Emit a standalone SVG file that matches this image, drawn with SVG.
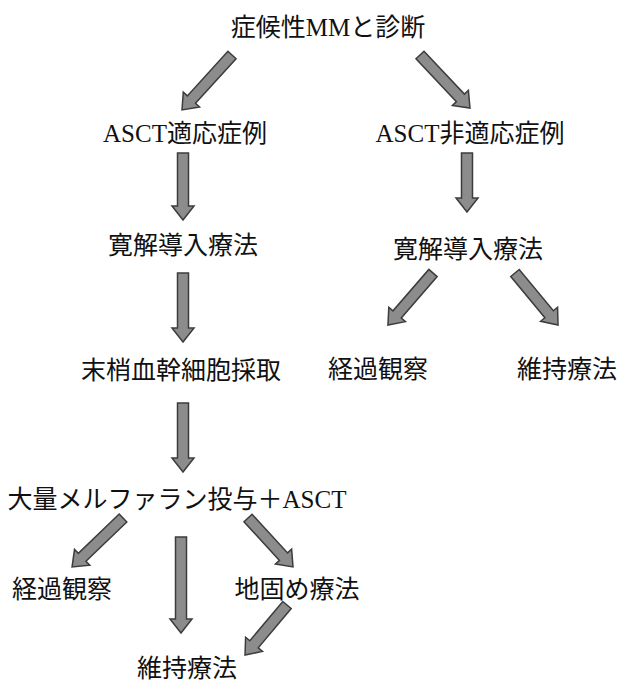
<svg xmlns="http://www.w3.org/2000/svg" width="621" height="686" viewBox="0 0 621 686">
<style>
text{font-family:"Liberation Serif","Noto Sans CJK JP",serif;font-size:25px;fill:#111;text-anchor:middle}
.arr{fill:#8c8c8c;stroke:#3c3c3c;stroke-width:1.5;stroke-linejoin:miter}
</style>
<rect width="621" height="686" fill="#fff"/>
<g id="n_diag"><text x="328" y="36">症候性MMと診断</text></g>
<g id="n_asct_ok"><text x="185" y="142">ASCT適応症例</text></g>
<g id="n_asct_ng"><text x="470" y="142">ASCT非適応症例</text></g>
<g id="n_ind_l"><text x="183" y="254">寛解導入療法</text></g>
<g id="n_ind_r"><text x="468" y="258">寛解導入療法</text></g>
<g id="n_obs_r"><text x="378" y="378">経過観察</text></g>
<g id="n_maint_r"><text x="567" y="378">維持療法</text></g>
<g id="n_pbsc"><text x="181" y="379">末梢血幹細胞採取</text></g>
<g id="n_hdm"><text x="177" y="508">大量メルファラン投与＋ASCT</text></g>
<g id="n_obs_l"><text x="62" y="598">経過観察</text></g>
<g id="n_consol"><text x="297" y="598">地固め療法</text></g>
<g id="n_maint_b"><text x="187" y="677">維持療法</text></g>
<g id="connectors">
<path class="arr" transform="translate(232,55) rotate(42.3)" d="M-5.5,0H5.5V60.3H11L0,74.3L-11,60.3H-5.5Z"/>
<path class="arr" transform="translate(420,55) rotate(-43.3)" d="M-5.5,0H5.5V58.9H11L0,72.9L-11,58.9H-5.5Z"/>
<path class="arr" transform="translate(183,153)" d="M-5.5,0H5.5V53H11L0,67L-11,53H-5.5Z"/>
<path class="arr" transform="translate(467,153)" d="M-5.5,0H5.5V45H11L0,59L-11,45H-5.5Z"/>
<path class="arr" transform="translate(433,273) rotate(40.9)" d="M-5.5,0H5.5V54.8H11L0,68.8L-11,54.8H-5.5Z"/>
<path class="arr" transform="translate(515,273) rotate(-39.6)" d="M-5.5,0H5.5V53.5H11L0,67.5L-11,53.5H-5.5Z"/>
<path class="arr" transform="translate(183,273)" d="M-5.5,0H5.5V55H11L0,69L-11,55H-5.5Z"/>
<path class="arr" transform="translate(183,403)" d="M-5.5,0H5.5V55H11L0,69L-11,55H-5.5Z"/>
<path class="arr" transform="translate(123,518) rotate(46.1)" d="M-5.5,0H5.5V56.7H11L0,70.7L-11,56.7H-5.5Z"/>
<path class="arr" transform="translate(181,537)" d="M-5.5,0H5.5V82H11L0,96L-11,82H-5.5Z"/>
<path class="arr" transform="translate(248,518) rotate(-42.6)" d="M-5.5,0H5.5V52.5H11L0,66.5L-11,52.5H-5.5Z"/>
<path class="arr" transform="translate(287,605) rotate(40)" d="M-5.5,0H5.5V51.3H11L0,65.3L-11,51.3H-5.5Z"/>
</g>
</svg>
